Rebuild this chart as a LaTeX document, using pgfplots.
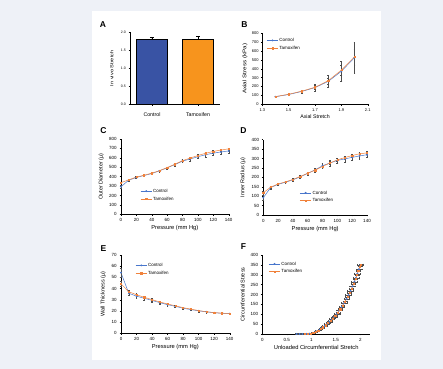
\documentclass[border=0pt]{standalone}
\usepackage{pgfplots}
\pgfplotsset{compat=1.18}
\usepackage{fontspec}
\setmainfont{Liberation Sans}
\definecolor{ctl}{RGB}{72,118,204}
\definecolor{tam}{RGB}{240,130,60}
\definecolor{barblue}{RGB}{57,83,164}
\definecolor{barorange}{RGB}{247,148,29}
\definecolor{bg}{RGB}{238,241,247}
\pgfplotsset{
 panel/.style={scale only axis, anchor=south west, clip=false,
   axis x line*=bottom, axis y line*=left,
   axis line style={black, line width=1pt, -},
   tick align=outside, major tick length=3pt,
   tick style={black, line width=0.8pt},
   ticklabel style={font=\fontsize{9}{10}\selectfont},
   xticklabel style={yshift=-2pt},
   yticklabel style={xshift=-2pt},
   xlabel style={font=\fontsize{11.5}{13}\selectfont},
   ylabel style={font=\fontsize{11}{12}\selectfont},
   /pgf/number format/assume math mode=true,
   legend cell align=left,
   legend style={draw=none, fill=none, font=\fontsize{9}{10}\selectfont, row sep=3.5pt, anchor=north west, inner sep=1pt},
   legend image code/.code={\draw[mark repeat=2,mark phase=2] plot coordinates {(0cm,0cm) (0.4cm,0cm) (0.8cm,0cm)};},
 },
 ctlplot/.style={color=ctl, line width=1pt, mark=*, mark size=1.3pt,
   error bars/error bar style={black!70, line width=0.5pt},
   error bars/error mark options={black!70, rotate=90, mark size=1.8pt, line width=0.5pt}},
 tamplot/.style={color=tam, line width=1pt, mark=square*, mark size=1.2pt,
   error bars/error bar style={black!70, line width=0.5pt},
   error bars/error mark options={black!70, rotate=90, mark size=1.8pt, line width=0.5pt}},
}
\tikzset{letter/.style={font=\fontsize{17}{18}\selectfont\bfseries}}
\begin{document}
\begin{tikzpicture}
\fill[bg] (0pt,0pt) rectangle (886pt,738pt);
\useasboundingbox (0pt,0pt) rectangle (886pt,738pt);
\fill[white] (184pt,18pt) rectangle (762pt,716pt);

\node[letter] at (206pt,688pt) {A};
\node[letter] at (489pt,688pt) {B};
\node[letter] at (207pt,477pt) {C};
\node[letter] at (487pt,477pt) {D};
\node[letter] at (207pt,241pt) {E};
\node[letter] at (487pt,245pt) {F};

% Panel A
\begin{axis}[panel, at={(260pt,529.4pt)}, width=180pt, height=144pt,
  ymin=0, ymax=2, ytick={0,0.5,1,1.5,2},
  yticklabel style={font=\fontsize{7}{8}\selectfont, xshift=0pt, /pgf/number format/.cd, fixed, fixed zerofill, precision=1},
  xmin=-0.478, xmax=1.478, xtick={0,1}, xticklabels={Control,Tamoxifen},
  xticklabel style={font=\fontsize{10.5}{12}\selectfont, yshift=-9pt},
  ylabel={\scalebox{1.25}[1]{In vivo Stretch}}, ylabel style={font=\fontsize{9}{10}\selectfont},
  ylabel shift=8pt,
  bar width=0.665]
\addplot[ybar, bar shift=0pt, fill=barblue, draw=black, line width=0.9pt,
  error bars/.cd, y dir=plus, y explicit,
  error bar style={black, line width=0.8pt},
  error mark options={black, rotate=90, mark size=4pt, line width=0.8pt}]
  coordinates {(0,1.82) +- (0,0.05)};
\addplot[ybar, bar shift=0pt, fill=barorange, draw=black, line width=0.9pt,
  error bars/.cd, y dir=plus, y explicit,
  error bar style={black, line width=0.8pt},
  error mark options={black, rotate=90, mark size=4pt, line width=0.8pt}]
  coordinates {(1,1.82) +- (0,0.07)};
\end{axis}

% Panel B
\begin{axis}[panel, at={(524.6pt,529.4pt)}, width=210.8pt, height=142pt,
  xmin=1.3, xmax=2.1, xtick={1.3,1.5,1.7,1.9,2.1},
  xticklabel style={font=\fontsize{8}{9}\selectfont, /pgf/number format/.cd, fixed, fixed zerofill, precision=1},
  ymin=0, ymax=800, ytick={0,100,200,300,400,500,600,700,800},
  yticklabel style={font=\fontsize{8}{9}\selectfont, xshift=1pt},
  xlabel={Axial Stretch}, ylabel={\scalebox{1.2}[1]{Axial Stress (kPa)}},
  ylabel style={font=\fontsize{10.5}{12}\selectfont},
  xlabel style={font=\fontsize{10.5}{12}\selectfont},
  ylabel shift=2pt,
  legend style={at={(0.035,0.95)}}]
\addplot[ctlplot, error bars/.cd, y dir=both, y explicit] table[x=x, y=y, y error=e] {
x y e
1.4 85 8
1.5 110 10
1.6 145 15
1.7 188 35
1.8 258 70
1.9 372 110
2.0 527 178
};
\addplot[tamplot, error bars/.cd, y dir=both, y explicit] table[x=x, y=y, y error=e] {
x y e
1.4 87 5
1.5 113 8
1.6 148 10
1.7 192 20
1.8 265 35
1.9 385 60
2.0 535 90
};
\legend{Control,Tamoxifen}
\end{axis}

% Panel C
\begin{axis}[panel, at={(242pt,309.4pt)}, width=215.4pt, height=150.6pt,
  xmin=0, xmax=140, xtick={0,20,...,140},
  ymin=0, ymax=800, ytick={0,100,...,800},
  xlabel={Pressure (mm Hg)}, ylabel={Outer Diameter (µ)},
  ylabel shift=4pt,
  legend style={at={(0.174,0.356)}}]
\addplot[ctlplot, error bars/.cd, y dir=both, y explicit] table[x=x, y=y, y error=e] {
x y e
0 293 12
10 362 10
20 392 8
30 412 8
40 433 9
50 462 10
60 494 12
70 528 14
80 565 16
90 588 20
100 612 20
110 633 22
120 650 22
130 662 22
140 673 22
};
\addplot[tamplot, error bars/.cd, y dir=both, y explicit] table[x=x, y=y, y error=e] {
x y e
0 336 8
10 366 8
20 396 7
30 415 7
40 437 8
50 464 8
60 496 9
70 532 10
80 570 12
90 598 12
100 625 12
110 648 13
120 668 13
130 683 12
140 695 12
};
\legend{Control,Tamoxifen}
\end{axis}

% Panel D
\begin{axis}[panel, at={(526.6pt,308pt)}, width=207.4pt, height=150.6pt,
  xmin=0, xmax=140, xtick={0,20,...,140},
  ymin=0, ymax=400, ytick={0,50,...,400},
  xlabel={Pressure (mm Hg)}, ylabel={Inner Radius (µ)},
  ylabel shift=5pt,
  legend style={at={(0.345,0.343)}}]
\addplot[ctlplot, error bars/.cd, y dir=both, y explicit] table[x=x, y=y, y error=e] {
x y e
0 92 15
10 146 8
20 163 6
30 174 6
40 187 6
50 203 7
60 221 8
70 240 10
80 262 12
90 276 14
100 290 14
110 298 15
120 306 15
130 314 15
140 320 15
};
\addplot[tamplot, error bars/.cd, y dir=both, y explicit] table[x=x, y=y, y error=e] {
x y e
0 118 10
10 148 6
20 165 5
30 176 5
40 189 5
50 205 5
60 222 6
70 238 6
80 258 7
90 276 8
100 293 8
110 305 8
120 316 8
130 325 8
140 330 8
};
\legend{Control,Tamoxifen}
\end{axis}

% Panel E
\begin{axis}[panel, at={(242pt,71.4pt)}, width=217.4pt, height=156.6pt,
  xmin=0, xmax=140, xtick={0,20,...,140},
  ymin=0, ymax=70, ytick={0,10,...,70},
  xlabel={Pressure (mm Hg)}, ylabel={Wall Thickness (µ)},
  ylabel shift=5pt,
  legend style={at={(0.126,0.913)}}]
\addplot[ctlplot, error bars/.cd, y dir=both, y explicit] table[x=x, y=y, y error=e] {
x y e
0 54.2 4
10 35.8 1.5
20 33.2 1.5
30 31.3 1.3
40 29.4 1.2
50 27.4 1.2
60 25.6 1.1
70 24.1 1
80 22.4 1
90 21.2 0.9
100 20.1 0.9
110 19.2 0.8
120 18.4 0.8
130 17.9 0.8
140 17.6 0.8
};
\addplot[tamplot, error bars/.cd, y dir=both, y explicit] table[x=x, y=y, y error=e] {
x y e
0 44.2 2
10 37.2 1.5
20 34.4 1.3
30 32.2 1.2
40 30.1 1.1
50 28.0 1.1
60 26.2 1
70 24.6 1
80 22.9 0.9
90 21.6 0.9
100 20.3 0.8
110 19.3 0.8
120 18.5 0.8
130 18.0 0.7
140 17.7 0.7
};
\legend{Control,Tamoxifen}
\end{axis}

% Panel F
\begin{axis}[panel, at={(524.6pt,70pt)}, width=215.6pt, height=158pt,
  xmin=0, xmax=2.2, xtick={0,0.5,1,1.5,2},
  ymin=0, ymax=400, ytick={0,50,...,400},
  xlabel={Unloaded Circumferential Stretch}, ylabel={Circumferential Stress},
  ylabel shift=5pt,
  legend style={at={(0.053,0.934)}}]
\addplot[ctlplot, error bars/.cd, x dir=both, x explicit] table[x=x, y=y, x error=e] {
x y e
0.70 0 0.02
0.76 0 0.02
0.82 0 0.02
0.90 1 0.03
0.96 2 0.03
1.02 4 0.03
1.07 8 0.04
1.12 15 0.04
1.17 22 0.04
1.22 31 0.04
1.27 40 0.05
1.32 51 0.05
1.37 62 0.05
1.42 74 0.05
1.47 87 0.05
1.52 102 0.06
1.57 119 0.06
1.62 137 0.06
1.67 157 0.06
1.72 178 0.06
1.76 197 0.06
1.80 218 0.06
1.84 241 0.06
1.88 265 0.06
1.91 284 0.06
1.94 305 0.06
1.97 327 0.06
2.00 348 0.06
};
\addplot[tamplot, error bars/.cd, x dir=both, x explicit] table[x=x, y=y, x error=e] {
x y e
0.87 0 0.02
0.93 1 0.02
0.99 3 0.02
1.04 6 0.03
1.09 11 0.03
1.14 18 0.03
1.19 25 0.03
1.24 34 0.03
1.29 44 0.03
1.34 55 0.04
1.39 66 0.04
1.44 79 0.04
1.49 93 0.04
1.54 108 0.04
1.59 125 0.04
1.64 144 0.04
1.69 165 0.04
1.74 188 0.04
1.78 207 0.04
1.82 229 0.04
1.86 253 0.04
1.90 278 0.04
1.93 298 0.04
1.96 320 0.04
1.99 342 0.04
2.01 352 0.04
};
\legend{Control,Tamoxifen}
\end{axis}
\end{tikzpicture}
\end{document}
